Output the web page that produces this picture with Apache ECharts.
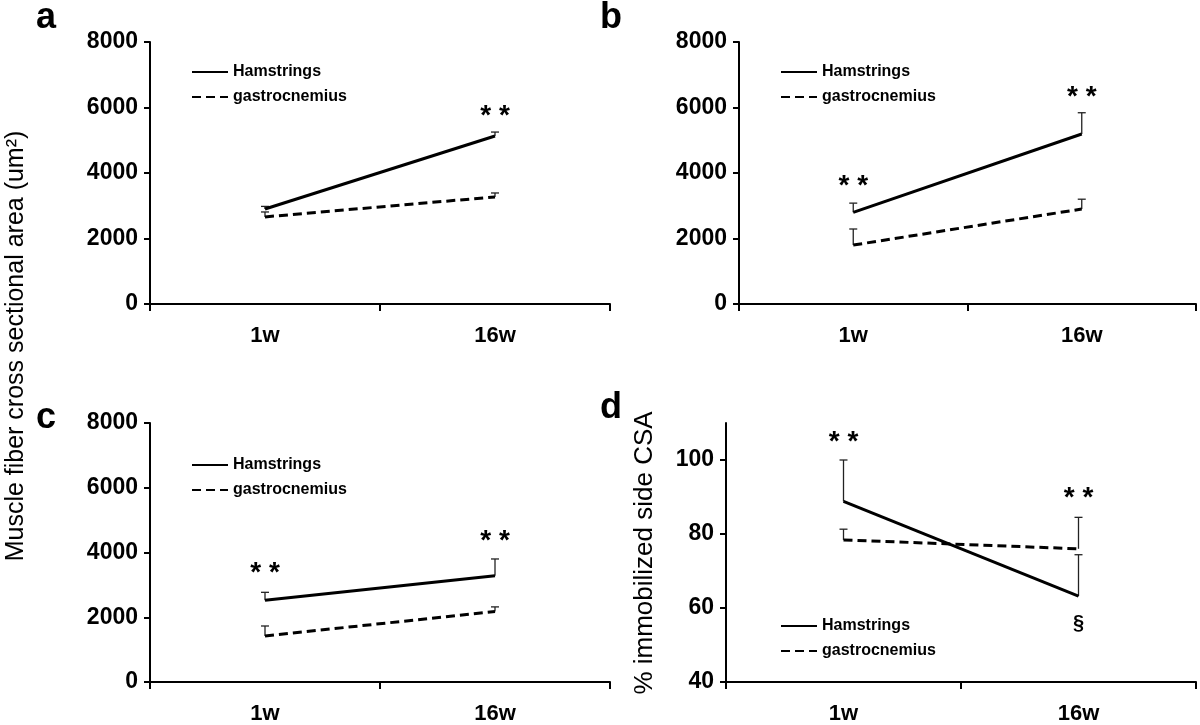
<!DOCTYPE html>
<html>
<head>
<meta charset="utf-8">
<script src="https://cdn.jsdelivr.net/npm/echarts@6/dist/echarts.min.js"></script>
<style>html,body{margin:0;padding:0;background:#fff}#c{width:1200px;height:725px}</style>
</head>
<body>
<div id="c"></div>
<script>
// ---- data ----
const categories = ['1w', '16w'];
const seriesNames = ['Hamstrings', 'gastrocnemius'];

// panel a
const aHam = [2900, 5130];
const aHamUp = [2980, 5250];
const aGas = [2660, 3270];
const aGasUp = [2810, 3390];
// panel b
const bHam = [2800, 5190];
const bHamUp = [3080, 5840];
const bGas = [1800, 2900];
const bGasUp = [2290, 3200];
// panel c
const cHam = [2525, 3285];
const cHamUp = [2770, 3800];
const cGas = [1420, 2180];
const cGasUp = [1730, 2320];
// panel d (% immobilized side CSA)
const dHam = [88.8, 63.2];
const dHamUp = [100, 74.4];
const dGas = [78.4, 76.0];
const dGasUp = [81.3, 84.5];

// significance marks [category, value, text]
const aMarks = [['16w', 5860, '* *']];
const bMarks = [['1w', 3720, '* *'], ['16w', 6440, '* *']];
const cMarks = [['1w', 3470, '* *'], ['16w', 4470, '* *']];
const dMarks = [['1w', 105.9, '* *'], ['16w', 90.7, '* *'], ['16w', 55.7, '§']];

const csaTicks = [0, 2000, 4000, 6000, 8000];
const pctTicks = [40, 60, 80, 100];
const panelLetters = ['a', 'b', 'c', 'd'];
const yTitleLeft = 'Muscle fiber cross sectional area (um²)';
const yTitleD = '% immobilized side CSA';

// ---- chart ----
const FONT = '"Liberation Sans", Arial, sans-serif';
const chart = echarts.init(document.getElementById('c'), null, {renderer: 'canvas'});

const grids = [
  {left: 150, right: 590, top: 42, bottom: 421},
  {left: 739, right: 4, top: 42, bottom: 421},
  {left: 150, right: 590, top: 423, bottom: 39},
  {left: 726, right: 4, top: 423, bottom: 39}
];

function xAxis(i) {
  return {
    type: 'category', gridIndex: i, data: categories, boundaryGap: true,
    axisLine: {lineStyle: {color: '#000', width: 2}},
    axisTick: {show: true, length: 7, lineStyle: {color: '#000', width: 2}},
    axisLabel: {color: '#000', fontSize: 22, fontWeight: 'bold', fontFamily: FONT, margin: 21},
    splitLine: {show: false}
  };
}
function yAxis(i, min, max, interval, ticks) {
  return {
    type: 'value', gridIndex: i, min: min, max: max, interval: interval,
    axisLine: {show: true, lineStyle: {color: '#000', width: 2}},
    axisTick: {show: true, length: 6, lineStyle: {color: '#000', width: 2}, customValues: ticks},
    axisLabel: {color: '#000', fontSize: 23, fontWeight: 'bold', fontFamily: FONT, margin: 12,
      customValues: ticks, formatter: v => String(v)},
    splitLine: {show: false}
  };
}

function lineSeries(i, name, data, dashed) {
  return {
    type: 'line', name: name, xAxisIndex: i, yAxisIndex: i, data: data,
    symbol: 'none', silent: true, z: 3,
    lineStyle: {color: '#000', width: 3, type: dashed ? [9, 5] : 'solid'},
    itemStyle: {color: '#000'}
  };
}
function errSeries(i, means, ups) {
  const d = [];
  for (let k = 0; k < means.length; k++) d.push([k, means[k], ups[k]]);
  return {
    type: 'custom', xAxisIndex: i, yAxisIndex: i, data: d, silent: true, z: 2,
    renderItem: function (params, api) {
      const p0 = api.coord([api.value(0), api.value(1)]);
      const p1 = api.coord([api.value(0), api.value(2)]);
      return {
        type: 'group', children: [
          {type: 'line', shape: {x1: p0[0], y1: p0[1], x2: p1[0], y2: p1[1]}, style: {stroke: '#222', lineWidth: 1.3}},
          {type: 'line', shape: {x1: p1[0] - 4, y1: p1[1], x2: p1[0] + 4, y2: p1[1]}, style: {stroke: '#222', lineWidth: 1.3}}
        ]
      };
    }
  };
}
function markSeries(i, marks) {
  const d = marks.map(m => [categories.indexOf(m[0]), m[1], m[2]]);
  return {
    type: 'custom', xAxisIndex: i, yAxisIndex: i, data: d, silent: true, z: 5,
    renderItem: function (params, api) {
      const p = api.coord([api.value(0), api.value(1)]);
      const t = marks[params.dataIndex][2];
      const sect = t === '§';
      return {
        type: 'text', x: p[0], y: p[1] + (sect ? 0 : 4),
        style: {text: t, fill: '#000', font: 'bold ' + (sect ? 20 : 28) + 'px ' + FONT,
          textAlign: 'center', textVerticalAlign: 'middle'}
      };
    }
  };
}
function legend(left, top) {
  return {
    data: seriesNames, left: left, top: top, orient: 'vertical', itemGap: 9,
    itemWidth: 36, itemHeight: 16, selectedMode: false,
    lineStyle: {width: 2},
    itemStyle: {opacity: 0},
    textStyle: {color: '#000', fontSize: 16, fontWeight: 'bold', fontFamily: FONT}
  };
}

const panels = [
  [aHam, aHamUp, aGas, aGasUp, aMarks],
  [bHam, bHamUp, bGas, bGasUp, bMarks],
  [cHam, cHamUp, cGas, cGasUp, cMarks],
  [dHam, dHamUp, dGas, dGasUp, dMarks]
];
const series = [];
panels.forEach((p, i) => {
  series.push(lineSeries(i, seriesNames[0], p[0], false));
  series.push(lineSeries(i, seriesNames[1], p[2], true));
  series.push(errSeries(i, p[0], p[1]));
  series.push(errSeries(i, p[2], p[3]));
  series.push(markSeries(i, p[4]));
});

const letterPos = [[36, 28], [600, 28], [36, 428], [600, 418]];
const graphics = panelLetters.map((t, i) => ({
  type: 'text', left: letterPos[i][0], top: letterPos[i][1] - 28,
  style: {text: t, fill: '#000', font: 'bold 36px ' + FONT}
}));
graphics.push({
  type: 'text', x: 16, y: 346, rotation: Math.PI / 2,
  style: {text: yTitleLeft, fill: '#000', font: '25px ' + FONT, textAlign: 'center', textVerticalAlign: 'middle'}
});
graphics.push({
  type: 'text', x: 645, y: 553, rotation: Math.PI / 2,
  style: {text: yTitleD, fill: '#000', font: '26px ' + FONT, textAlign: 'center', textVerticalAlign: 'middle'}
});

chart.setOption({
  backgroundColor: '#fff',
  animation: false,
  grid: grids,
  xAxis: [xAxis(0), xAxis(1), xAxis(2), xAxis(3)],
  yAxis: [
    yAxis(0, 0, 8000, 2000, csaTicks),
    yAxis(1, 0, 8000, 2000, csaTicks),
    yAxis(2, 0, 8000, 2000, csaTicks),
    yAxis(3, 40, 110, 20, pctTicks)
  ],
  legend: [legend(186, 59), legend(775, 59), legend(186, 452), legend(775, 613)],
  series: series,
  graphic: graphics
});
</script>
</body>
</html>
